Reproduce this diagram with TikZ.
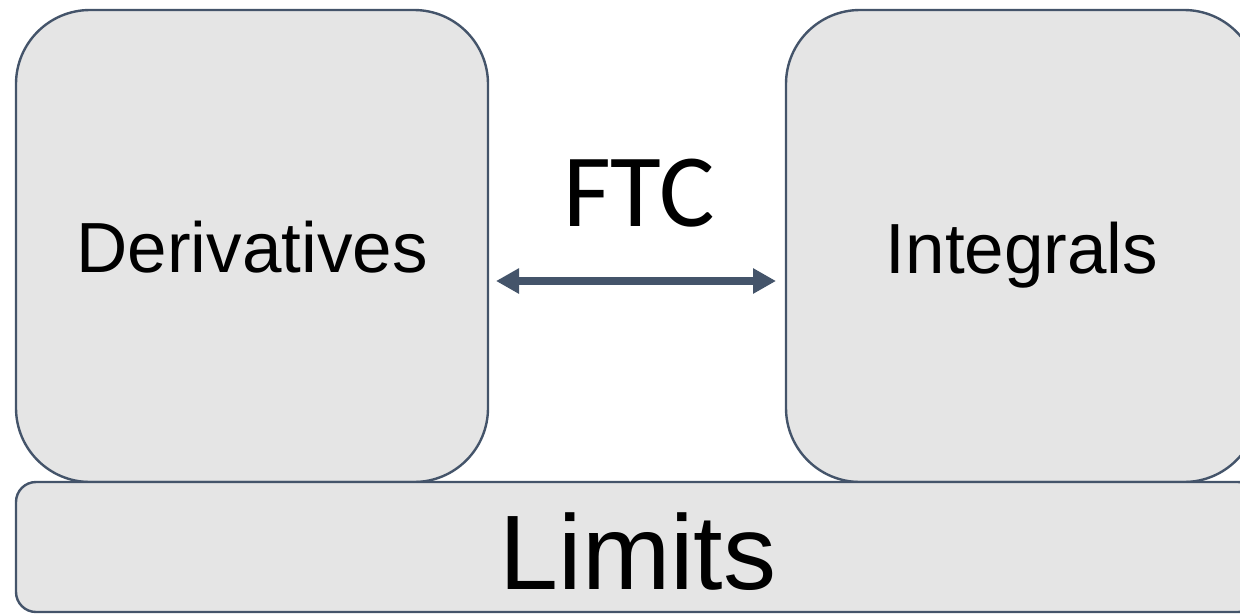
\documentclass[tikz,border=0pt]{standalone}
\usepackage{fontspec}
\setmainfont{Liberation Sans}
\newfontfamily\ftcfont{Carlito}
\usetikzlibrary{arrows.meta}
\definecolor{boxfill}{HTML}{E5E5E5}
\definecolor{boxline}{HTML}{44546A}
\tikzset{
  topic/.style={draw=boxline, fill=boxfill, line width=2.4pt, rounded corners=#1},
  label/.style={anchor=base, inner sep=0pt, text=black},
  link/.style={draw=boxline, line width=8pt,
    {Triangle[length=23pt,width=24pt]}-{Triangle[length=23pt,width=24pt]}}
}
\begin{document}
\begin{tikzpicture}[x=1pt,y=-1pt]
  \useasboundingbox (0,0) rectangle (1240,614);
  \begin{scope}
    \clip (0,0) rectangle (1240,614);
    % two upper topic boxes
    \draw[topic=74pt] (16,10) rectangle (488,482);
    \draw[topic=74pt] (786,10) rectangle (1258,482);
    \coordinate (dE) at (488,281);
    \coordinate (iW) at (786,281);
    % foundation bar
    \draw[topic=20pt] (16,482) rectangle (1258,612);
  \end{scope}
  \node[label, font=\fontsize{71}{80}\selectfont] (der) at (252,272) {Derivatives};
  \node[label, font=\fontsize{71}{80}\selectfont] (int) at (1022,273) {Integrals};
  \node[label, font=\fontsize{106}{120}\selectfont] (lim) at (638,589) {Limits};
  \node[label, font=\ftcfont\fontsize{104}{115}\selectfont] (ftc) at (639,226) {FTC};
  \draw[link] ([xshift=8pt]dE) -- ([xshift=-10pt]iW);
\end{tikzpicture}
\end{document}
